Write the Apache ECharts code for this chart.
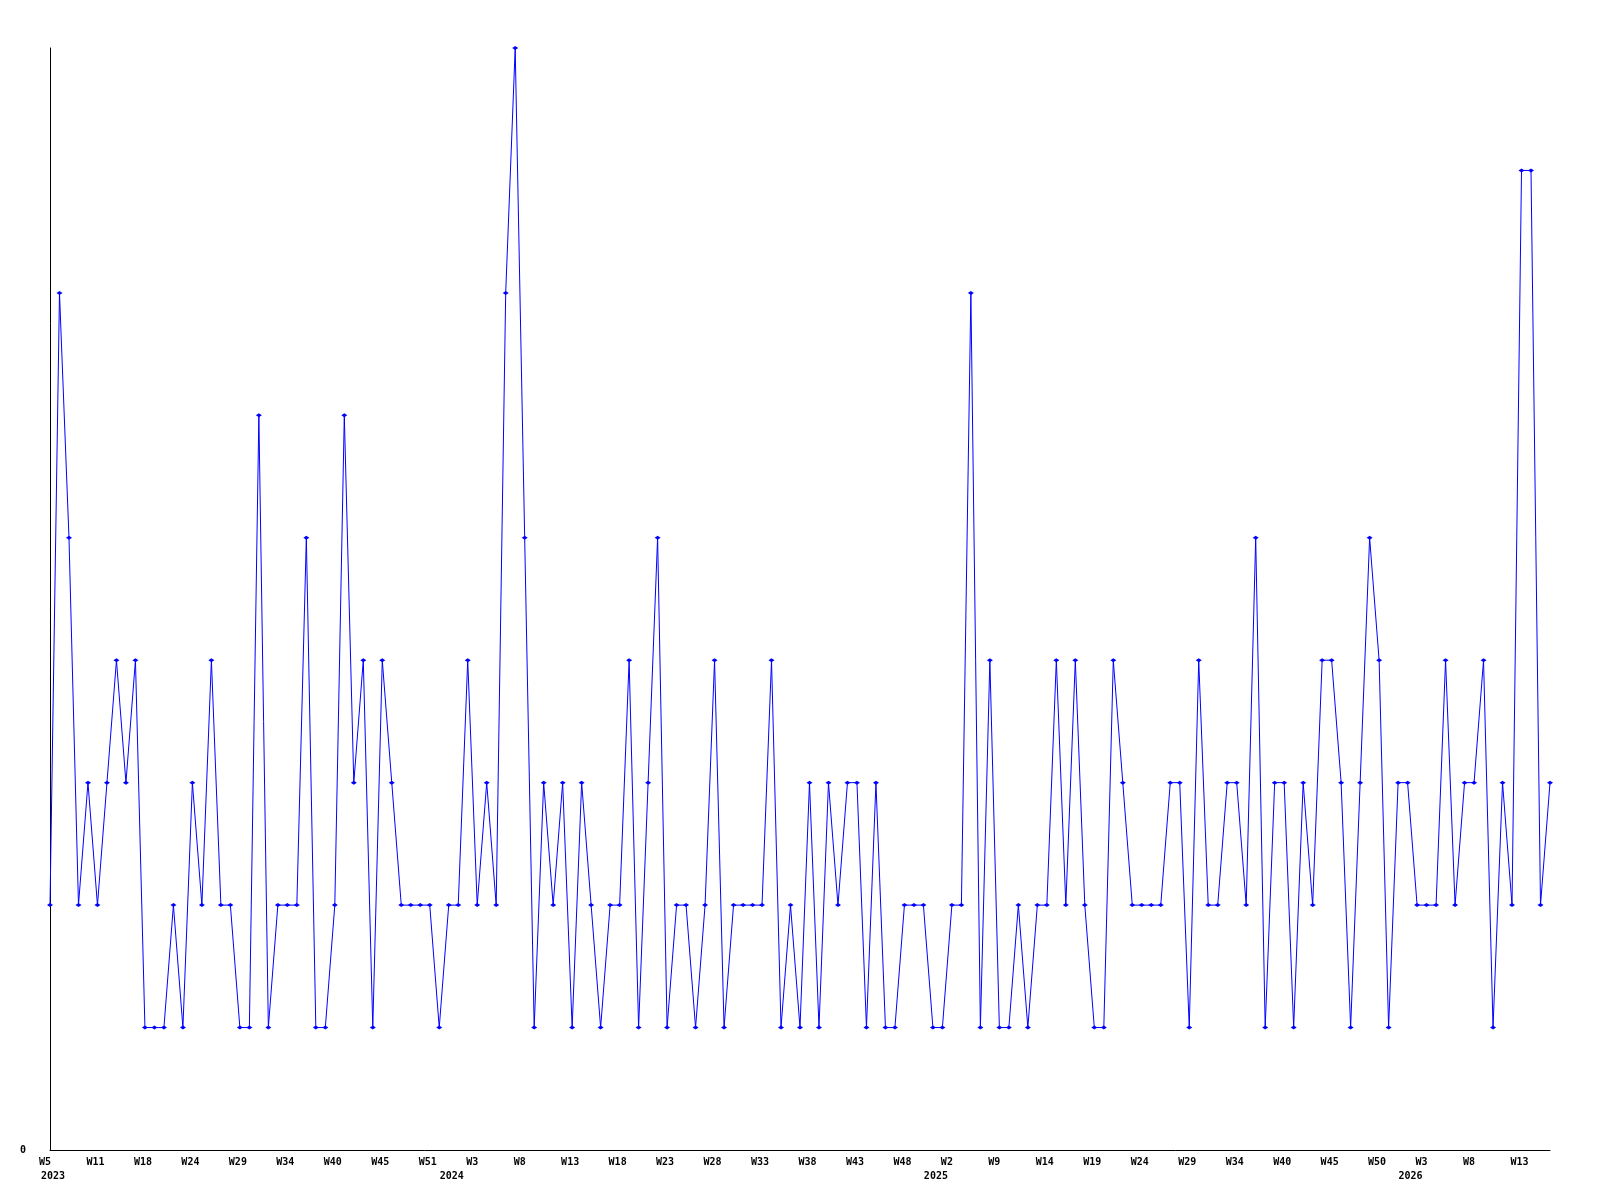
<!DOCTYPE html>
<html>
<head>
<meta charset="utf-8">
<script src="https://cdn.jsdelivr.net/npm/echarts@6/dist/echarts.min.js"></script>
<style>
html,body{margin:0;padding:0;background:#fff;}
#chart{width:1600px;height:1200px;}
</style>
</head>
<body>
<div id="chart"></div>
<script>
// Series values (one per point, left to right)
const values = [
  2,7,5,2,3,2,3,4,3,4,
  1,1,1,2,1,3,2,4,2,2,
  1,1,6,1,2,2,2,5,1,1,
  2,6,3,4,1,4,3,2,2,2,
  2,1,2,2,4,2,3,2,7,9,
  5,1,3,2,3,1,3,2,1,2,
  2,4,1,3,5,1,2,2,1,2,
  4,1,2,2,2,2,4,1,2,1,
  3,1,3,2,3,3,1,3,1,1,
  2,2,2,1,1,2,2,7,1,4,
  1,1,2,1,2,2,4,2,4,2,
  1,1,4,3,2,2,2,2,3,3,
  1,4,2,2,3,3,2,5,1,3,
  3,1,3,2,4,4,3,1,3,5,
  4,1,3,3,2,2,2,4,2,3,
  3,4,1,3,2,8,8,2,3
];

// Week tick labels and the point each one sits under
const weekLabels = ["W5","W11","W18","W24","W29","W34","W40","W45","W51","W3","W8",
  "W13","W18","W23","W28","W33","W38","W43","W48","W2","W9","W14","W19","W24",
  "W29","W34","W40","W45","W50","W3","W8","W13"];
const weekAt = [0,5,10,15,20,25,30,35,40,45,50,55,60,65,70,75,80,85,90,95,100,105,
  110,115,120,125,130,135,140,145,150,155];

// Year labels and the point each one sits under
const yearLabels = ["2023","2024","2025","2026"];
const yearAt = [0,42,93,143];

const yMin = 0, yMax = 9;

const weekCats = values.map(() => '');
weekAt.forEach((p, i) => { weekCats[p] = weekLabels[i]; });
const yearCats = values.map(() => '');
yearAt.forEach((p, i) => { yearCats[p] = yearLabels[i]; });

const font = {fontFamily: '"DejaVu Sans Mono", monospace', fontSize: 10, fontWeight: 'bold', color: '#000'};

const chart = echarts.init(document.getElementById('chart'), null, {renderer: 'canvas'});
chart.setOption({
  animation: false,
  backgroundColor: '#fff',
  grid: {left: 50, right: 50, top: 48, bottom: 50, containLabel: false},
  xAxis: [
    {
      type: 'category', data: weekCats, boundaryGap: false,
      axisLine: {show: true, lineStyle: {color: '#000', width: 1}},
      axisTick: {show: false},
      splitLine: {show: false},
      axisLabel: Object.assign({
        interval: 0, margin: 6, lineHeight: 12, padding: [0, 4, 0, 0],
        formatter: v => v.length < 3 && v.length > 0 ? v + ' ' : v
      }, font)
    },
    {
      type: 'category', data: yearCats, boundaryGap: false, position: 'bottom', offset: 14,
      axisLine: {show: false}, axisTick: {show: false}, splitLine: {show: false},
      axisLabel: Object.assign({interval: 0, margin: 6, lineHeight: 12, padding: [0, 0, 0, 6]}, font)
    }
  ],
  yAxis: {
    type: 'value', min: yMin, max: yMax, interval: 9,
    axisLine: {show: true, lineStyle: {color: '#000', width: 1}},
    axisTick: {show: false},
    splitLine: {show: false},
    axisLabel: Object.assign({margin: 24, formatter: v => v === 0 ? '0' : ''}, font)
  },
  series: [{
    type: 'line',
    data: values,
    xAxisIndex: 0,
    symbol: 'diamond',
    symbolSize: [6, 4],
    showSymbol: true,
    lineStyle: {color: '#0000ff', width: 1},
    itemStyle: {color: '#0000ff'},
    emphasis: {disabled: true}
  }]
});
</script>
</body>
</html>
